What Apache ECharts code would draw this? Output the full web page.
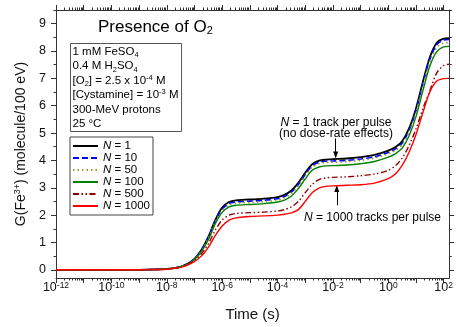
<!DOCTYPE html>
<html><head><meta charset="utf-8">
<script src="https://cdn.jsdelivr.net/npm/echarts@6/dist/echarts.min.js"></script>
<style>html,body{margin:0;padding:0;background:#fff}#c{width:456px;height:327px}</style>
</head><body><div id="c"></div>
<script>
// ---- data (log10 of time in seconds, G values in molecule/100 eV) ----
const logTime = [-12,-10,-9,-8.5,-8,-7.75,-7.5,-7.25,-7,-6.75,-6.5,-6.25,-6,-5.75,-5.5,-5,-4.5,-4,-3.75,-3.5,-3.25,-3,-2.75,-2.5,-2.25,-2,-1.5,-1,-0.5,0,0.25,0.5,0.75,1,1.25,1.5,1.75,2,2.2];
const seriesNames = ['1','10','50','100','500','1000'];
const gN1    = [0,0,0,0.01,0.03,0.06,0.11,0.22,0.40,0.72,1.20,1.82,2.28,2.48,2.54,2.57,2.60,2.66,2.74,2.90,3.18,3.55,3.86,3.99,4.03,4.05,4.07,4.12,4.20,4.36,4.48,4.70,5.17,5.90,6.88,7.77,8.30,8.45,8.47];
const gN10   = [0,0,0,0.01,0.03,0.06,0.11,0.22,0.40,0.71,1.18,1.78,2.22,2.42,2.48,2.51,2.54,2.60,2.68,2.84,3.12,3.48,3.80,3.93,3.97,3.98,4.00,4.05,4.13,4.29,4.41,4.63,5.10,5.83,6.82,7.70,8.24,8.40,8.42];
const gN50   = [0,0,0,0.01,0.03,0.06,0.11,0.21,0.39,0.69,1.15,1.74,2.17,2.37,2.43,2.46,2.49,2.55,2.63,2.79,3.07,3.43,3.75,3.88,3.92,3.93,3.95,4.00,4.08,4.24,4.36,4.58,5.04,5.75,6.72,7.60,8.13,8.29,8.31];
const gN100  = [0,0,0,0.01,0.03,0.06,0.11,0.21,0.38,0.67,1.10,1.68,2.10,2.30,2.36,2.39,2.42,2.48,2.55,2.70,2.97,3.32,3.64,3.76,3.80,3.81,3.83,3.88,3.96,4.12,4.24,4.45,4.90,5.60,6.55,7.45,7.98,8.15,8.17];
const gN500  = [0,0,0,0.01,0.02,0.05,0.10,0.19,0.34,0.58,0.95,1.45,1.82,2.00,2.06,2.09,2.11,2.15,2.20,2.30,2.50,2.82,3.12,3.30,3.36,3.38,3.40,3.44,3.50,3.64,3.80,4.08,4.55,5.15,5.90,6.55,7.20,7.47,7.52];
const gN1000 = [0,0,0,0.01,0.02,0.05,0.09,0.17,0.30,0.50,0.82,1.25,1.60,1.82,1.90,1.95,1.97,2.00,2.03,2.08,2.20,2.50,2.82,2.99,3.05,3.07,3.09,3.11,3.17,3.33,3.50,3.82,4.30,4.95,5.75,6.50,6.90,6.99,7.00];
const seriesValues = [gN1,gN10,gN50,gN100,gN500,gN1000];

// axis ticks / labels
const xLabelExponents = [-12,-10,-8,-6,-4,-2,0,2];
const xMajorExponents = [-12,-11,-10,-9,-8,-7,-6,-5,-4,-3,-2,-1,0,1,2];
const xMinorMultipliers = [2,3,4,5,6,7,8,9];
const yTickValues = [0,1,2,3,4,5,6,7,8,9];
const yMinorValues = [0.5,1.5,2.5,3.5,4.5,5.5,6.5,7.5,8.5,9.5];
const X_MIN = -12, X_MAX = 2.2, Y_MIN = -0.3, Y_MAX = 9.5;

// annotation arrows (data coordinates: [log10 t, G])
const arrowN1 = [[-1.9, 4.80], [-1.9, 4.20]];
const arrowN1000 = [[-1.86, 2.36], [-1.86, 2.97]];

const FONT = 'Liberation Sans, Arial, sans-serif';
const AX = '#333';

const xMinorExponents = [];
xMajorExponents.forEach(n => xMinorMultipliers.forEach(k => {
  const v = n + Math.log10(k);
  if (v < X_MAX) xMinorExponents.push(v);
}));

const styles = [
  {color:'#000000', type:'solid', width:1.8},
  {color:'#0000ff', type:[6,3], width:1.6},
  {color:'#9c9c2c', type:[1.5,3], width:1.6},
  {color:'#008000', type:'solid', width:1.4},
  {color:'#8b0000', type:[6,2.5,1.5,2.5,1.5,2.5], width:1.4},
  {color:'#ff0000', type:'solid', width:1.4}
];

function xAxisDef(pos, ticks, len, withLabels, showLine) {
  return {
    type:'value', position:pos, min:X_MIN, max:X_MAX, gridIndex:0,
    splitLine:{show:false},
    axisLine:{show:showLine, onZero:false, lineStyle:{color:AX, width:1}},
    axisTick:{show:true, inside:false, length:len, customValues:ticks, lineStyle:{color:AX, width:1}},
    axisLabel: withLabels ? {
      show:true, margin:3, customValues:xLabelExponents, color:'#111', fontFamily:FONT,
      formatter: v => '{b|10}{s|' + Math.round(v) + '}',
      rich:{ b:{fontSize:12.5, lineHeight:14, fontFamily:FONT, color:'#111'},
             s:{fontSize:8.5, lineHeight:9, verticalAlign:'top', fontFamily:FONT, color:'#111'} }
    } : {show:false},
    name: withLabels ? 'Time (s)' : '',
    nameLocation:'middle', nameGap:29,
    nameTextStyle:{fontSize:15, fontFamily:FONT, color:'#111'}
  };
}
function yAxisDef(pos, ticks, len, withLabels, showLine) {
  return {
    type:'value', position:pos, min:Y_MIN, max:Y_MAX, gridIndex:0,
    splitLine:{show:false},
    axisLine:{show:showLine, onZero:false, lineStyle:{color:AX, width:1}},
    axisTick:{show:true, inside:false, length:len, customValues:ticks, lineStyle:{color:AX, width:1}},
    axisLabel: withLabels ? {show:true, margin:10, customValues:yTickValues, fontSize:12.5, fontFamily:FONT, color:'#111'} : {show:false},
    name: withLabels ? '{b|G(Fe}{s|3+}{b|) (molecule/100 eV)}' : '',
    nameLocation:'middle', nameGap:25,
    nameTextStyle:{fontSize:14, fontFamily:FONT, color:'#111',
      rich:{ b:{fontSize:14, lineHeight:16, fontFamily:FONT, color:'#111'},
             s:{fontSize:9, lineHeight:9, verticalAlign:'top', fontFamily:FONT, color:'#111'} } }
  };
}

const series = seriesValues.map((vals, i) => ({
  name: seriesNames[i], type:'line', xAxisIndex:0, yAxisIndex:0,
  data: logTime.map((t, j) => [t, vals[j]]),
  symbol:'none', showSymbol:false, smooth:0.3,
  lineStyle:{color:styles[i].color, type:styles[i].type, width:styles[i].width},
  itemStyle:{color:styles[i].color},
  z: 2 + i
}));
series[0].markLine = {
  silent:true, animation:false, symbol:['none','triangle'], symbolSize:[5,7],
  label:{show:false},
  lineStyle:{color:'#000', width:1, type:'solid'},
  data:[
    [{coord:arrowN1[0]}, {coord:arrowN1[1]}],
    [{coord:arrowN1000[0]}, {coord:arrowN1000[1]}]
  ]
};

const boxRich = {
  r:{fontSize:11.5, lineHeight:14.5, fontFamily:FONT, fill:'#000', color:'#000'},
  sb:{fontSize:7.5, lineHeight:9, verticalAlign:'bottom', fontFamily:FONT, fill:'#000', color:'#000'},
  sp:{fontSize:7.5, lineHeight:11, verticalAlign:'top', fontFamily:FONT, fill:'#000', color:'#000'}
};

const chart = echarts.init(document.getElementById('c'), null, {renderer:'canvas'});
chart.setOption({
  animation:false,
  backgroundColor:'#fff',
  grid:{left:56, right:6, top:10, bottom:43, containLabel:false},
  xAxis:[
    xAxisDef('bottom', xMajorExponents, 5, true, true),
    xAxisDef('bottom', xMinorExponents, 2.5, false, false),
    xAxisDef('top', xMajorExponents, 5, false, true),
    xAxisDef('top', xMinorExponents, 2.5, false, false)
  ],
  yAxis:[
    yAxisDef('left', yTickValues, 5, true, true),
    yAxisDef('left', yMinorValues, 2.5, false, false),
    yAxisDef('right', yTickValues, 5, false, true),
    yAxisDef('right', yMinorValues, 2.5, false, false)
  ],
  legend:{
    orient:'vertical', left:70, top:137, padding:[3,3,3,2], itemGap:0,
    itemWidth:25, itemHeight:12, borderColor:'#444', borderWidth:1, backgroundColor:'#fff',
    selectedMode:false, data:seriesNames,
    itemStyle:{opacity:0, borderWidth:0},
    formatter: name => '{i|N}{r| = ' + name + '}',
    textStyle:{fontSize:11.5, fontFamily:FONT, color:'#000',
      rich:{ i:{fontStyle:'italic', fontSize:11.5, lineHeight:12.5, fontFamily:FONT, color:'#000'},
             r:{fontSize:11.5, lineHeight:12.5, fontFamily:FONT, color:'#000'} } }
  },
  graphic:[
    {type:'text', x:98, y:18.5, silent:true, style:{
      text:'{t|Presence of O}{s|2}', align:'left', verticalAlign:'top',
      rich:{ t:{fontSize:17, lineHeight:18, fontFamily:FONT, fill:'#000'},
             s:{fontSize:11, lineHeight:10, verticalAlign:'bottom', fontFamily:FONT, fill:'#000'} } }},
    {type:'text', x:70.5, y:43.5, silent:true, style:{
      text:[
        '{r|1 mM FeSO}{sb|4}',
        '{r|0.4 M H}{sb|2}{r|SO}{sb|4}',
        '{r|[O}{sb|2}{r|] = 2.5 x 10}{sp|-4}{r| M}',
        '{r|[Cystamine] = 10}{sp|-3}{r| M}',
        '{r|300-MeV protons}',
        '{r|25 °C}'
      ].join('\n'),
      align:'left', verticalAlign:'top', padding:[1,3,0,2],
      borderColor:'#555', borderWidth:1, rich:boxRich }},
    {type:'text', x:336, y:116.5, silent:true, style:{
      text:'{i|N}{r| = 1 track per pulse}\n{r|(no dose-rate effects)}',
      align:'center', verticalAlign:'top',
      rich:{ i:{fontStyle:'italic', fontSize:12, lineHeight:11.5, fontFamily:FONT, fill:'#000'},
             r:{fontSize:12, lineHeight:11.5, fontFamily:FONT, fill:'#000'} } }},
    {type:'text', x:372.5, y:211.5, silent:true, style:{
      text:'{i|N}{r| = 1000 tracks per pulse}',
      align:'center', verticalAlign:'top',
      rich:{ i:{fontStyle:'italic', fontSize:12, lineHeight:12, fontFamily:FONT, fill:'#000'},
             r:{fontSize:12, lineHeight:12, fontFamily:FONT, fill:'#000'} } }}
  ],
  series: series
});
</script>
</body></html>
